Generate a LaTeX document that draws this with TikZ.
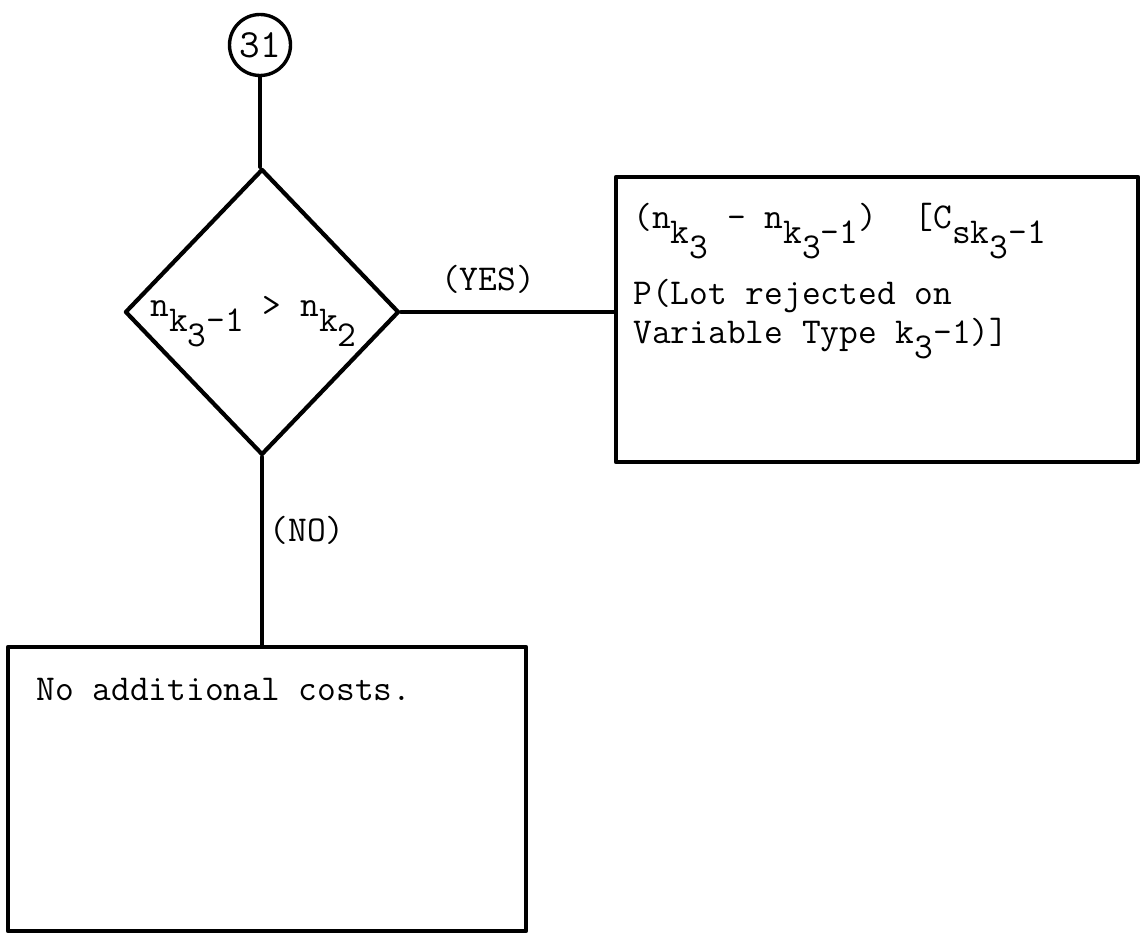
\documentclass[tikz,border=0pt]{standalone}
\usepackage{fontspec}
\usetikzlibrary{shapes.geometric}
% typewriter-style lowered index
\newcommand\dn[1]{\raisebox{-7.5pt}{#1}}
\tikzset{
  px/.style={x=0.5pt,y=-0.5pt},
  ln/.style={line width=2.1pt,line cap=round,line join=round},
  boxnode/.style={draw,ln,rectangle,inner sep=0pt},
  txt/.style={font=\ttfamily\fontsize{18.2pt}{20pt}\selectfont,inner sep=0pt}
}
\begin{document}
\begin{tikzpicture}[px]
\useasboundingbox (0,0) rectangle (1141,935);
\fill[white] (0,0) rectangle (1141,935);

% connector circle
\node[draw,circle,line width=1.7pt,minimum size=30.5pt,inner sep=0pt,txt,font=\ttfamily\fontsize{20pt}{22pt}\selectfont] (c31) at (260,45) {31};

% decision
\node[draw,ln,diamond,minimum width=137pt,minimum height=143pt,inner sep=0pt] (dec) at (262,312) {};
\node[txt,anchor=base west] (cond) at (150,317) {n\dn{k\dn{3}-1} > n\dn{k\dn{2}}};

% outcome boxes
\node[boxnode,minimum width=261pt,minimum height=142.5pt] (yesbox) at (877,319.5) {};
\node[boxnode,minimum width=259pt,minimum height=142pt] (nobox) at (267,789) {};

\node[txt,anchor=base west] (y1) at (633,229) {(n\dn{k\dn{3}} - n\dn{k\dn{3}-1})\ \ [C\dn{sk\dn{3}-1}};
\node[txt,anchor=base west] (y2) at (633,305) {P(Lot rejected on};
\node[txt,anchor=base west] (y3) at (633,344) {Variable Type k\dn{3}-1)]};

\node[txt,anchor=base west] (n1) at (36,700) {No additional costs.};

% connectors
\draw[ln] (c31.south) -- (c31.south |- dec.north);
\draw[ln] (dec.east) -- (dec.east -| yesbox.west);
\draw[ln] (dec.south) -- (dec.south |- nobox.north);

% branch labels
\node[txt] (lyes) at (488,279) {(YES)};
\node[txt] (lno) at (307,530) {(NO)};
\end{tikzpicture}
\end{document}
